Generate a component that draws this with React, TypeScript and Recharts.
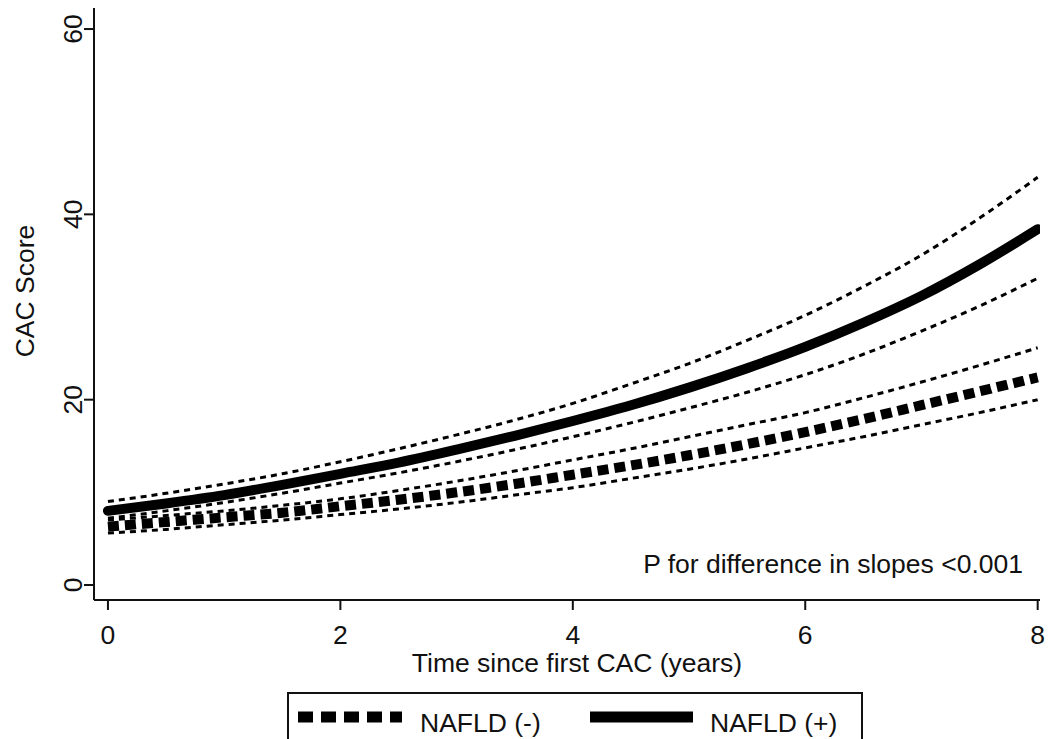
import { LineChart, Line, XAxis, YAxis, Legend, Customized } from 'recharts';

// time since first CAC (years)
const years = [0, 0.5, 1, 1.5, 2, 2.5, 3, 3.5, 4, 4.5, 5, 5.5, 6, 6.5, 7, 7.5, 8];

// NAFLD (+) fitted CAC score and 95% CI
const posFit = [8.0, 8.8, 9.7, 10.8, 12.0, 13.2, 14.6, 16.1, 17.7, 19.4, 21.3, 23.4, 25.7, 28.3, 31.2, 34.6, 38.4];
const posHigh = [9.0, 9.9, 10.9, 12.0, 13.3, 14.7, 16.2, 17.8, 19.6, 21.7, 23.9, 26.4, 29.1, 32.2, 35.6, 39.6, 44.0];
const posLow = [7.2, 8.0, 8.9, 9.9, 11.0, 12.1, 13.3, 14.6, 16.0, 17.5, 19.1, 20.8, 22.7, 24.9, 27.4, 30.1, 33.1];

// NAFLD (-) fitted CAC score and 95% CI
const negFit = [6.3, 6.8, 7.3, 7.8, 8.5, 9.2, 10.0, 10.9, 11.9, 12.9, 14.0, 15.2, 16.5, 17.9, 19.4, 20.9, 22.4];
const negHigh = [7.0, 7.5, 8.0, 8.6, 9.3, 10.2, 11.2, 12.3, 13.5, 14.7, 16.0, 17.3, 18.6, 20.2, 21.9, 23.7, 25.6];
const negLow = [5.6, 6.0, 6.5, 7.0, 7.6, 8.2, 8.9, 9.7, 10.5, 11.5, 12.5, 13.6, 14.8, 16.0, 17.3, 18.6, 20.0];

const xTicks = [0, 2, 4, 6, 8];
const yTicks = [0, 20, 40, 60];

const data = years.map((t, i) => ({
  t,
  posFit: posFit[i],
  posHigh: posHigh[i],
  posLow: posLow[i],
  negFit: negFit[i],
  negHigh: negHigh[i],
  negLow: negLow[i],
}));

const FONT = '"Liberation Sans", Arial, Helvetica, sans-serif';
const FS = 26.5;
const INK = '#111';

const YTick = (props: any) => {
  const { x, y, payload } = props;
  return (
    <text
      x={x}
      y={y}
      transform={`rotate(-90, ${x}, ${y})`}
      textAnchor="middle"
      fontFamily={FONT}
      fontSize={FS}
      fill={INK}
    >
      {payload.value}
    </text>
  );
};

const Texts = () => (
  <g fontFamily={FONT} fill={INK} fontSize={FS}>
    <text x={26} y={283} transform="rotate(-90, 26, 283)" textAnchor="middle">
      CAC Score
    </text>
    <text x={569} y={664} textAnchor="middle">
      Time since first CAC (years)
    </text>
    <text x={1015} y={565} textAnchor="end">
      P for difference in slopes &lt;0.001
    </text>
  </g>
);

const renderLegend = () => (
  <svg width={576} height={60} style={{ display: 'block' }}>
    <rect x={1} y={1} width={574} height={80} fill="#fff" stroke={INK} strokeWidth={2} />
    <line x1={11} x2={115} y1={25} y2={25} stroke="#000" strokeWidth={11} strokeDasharray="15 8" />
    <text x={133} y={40} fontFamily={FONT} fontSize={FS} fill={INK}>NAFLD (-)</text>
    <line x1={303} x2={406} y1={25} y2={25} stroke="#000" strokeWidth={11} />
    <text x={423} y={40} fontFamily={FONT} fontSize={FS} fill={INK}>NAFLD (+)</text>
  </svg>
);

export default function App() {
  return (
    <div style={{ position: 'fixed', left: 0, top: 0, width: 1048, height: 739, overflow: 'hidden', background: '#fff' }}>
      <div style={{ position: 'absolute', left: 8, top: 8 }}>
        <LineChart width={1040} height={744} data={data} margin={{ top: 0, right: 8, bottom: 0, left: 0 }}>
          <XAxis
            dataKey="t"
            type="number"
            domain={[-0.12, 8.02]}
            ticks={xTicks}
            height={152}
            tickSize={10}
            tickMargin={15}
            axisLine={{ stroke: INK, strokeWidth: 2 }}
            tickLine={{ stroke: INK, strokeWidth: 2 }}
            tick={{ fill: INK, fontSize: FS, fontFamily: FONT }}
            allowDataOverflow
          />
          <YAxis
            type="number"
            domain={[-1.62, 62.27]}
            ticks={yTicks}
            width={86}
            tickSize={10}
            axisLine={{ stroke: INK, strokeWidth: 2 }}
            tickLine={{ stroke: INK, strokeWidth: 2 }}
            tick={<YTick />}
            allowDataOverflow
          />
          <Legend
            layout="horizontal"
            verticalAlign="middle"
            align="center"
            content={renderLegend}
            wrapperStyle={{ top: 684, left: 279, width: 576, height: 60 }}
          />
          <Line dataKey="negHigh" type="monotone" stroke="#000" strokeWidth={3} strokeDasharray="6 5" dot={false} legendType="none" isAnimationActive={false} />
          <Line dataKey="negLow" type="monotone" stroke="#000" strokeWidth={3} strokeDasharray="6 5" dot={false} legendType="none" isAnimationActive={false} />
          <Line dataKey="posHigh" type="monotone" stroke="#000" strokeWidth={3} strokeDasharray="6 5" dot={false} legendType="none" isAnimationActive={false} />
          <Line dataKey="posLow" type="monotone" stroke="#000" strokeWidth={3} strokeDasharray="6 5" dot={false} legendType="none" isAnimationActive={false} />
          <Line dataKey="negFit" name="NAFLD (-)" type="monotone" stroke="#000" strokeWidth={10} strokeDasharray="11 6" dot={false} isAnimationActive={false} />
          <Line dataKey="posFit" name="NAFLD (+)" type="monotone" stroke="#000" strokeWidth={10} strokeLinecap="round" dot={false} isAnimationActive={false} />
          <Customized component={Texts} />
        </LineChart>
      </div>
    </div>
  );
}
